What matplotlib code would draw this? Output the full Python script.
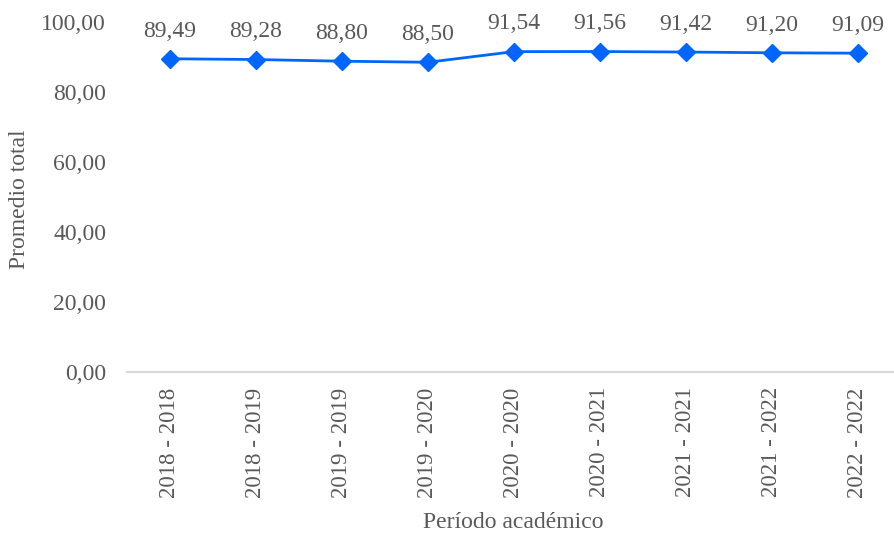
import matplotlib
matplotlib.use("Agg")
import matplotlib.pyplot as plt

categories = ["2018 - 2018", "2018 - 2019", "2019 - 2019", "2019 - 2020", "2020 - 2020",
              "2020 - 2021", "2021 - 2021", "2021 - 2022", "2022 - 2022"]
values = [89.49, 89.28, 88.80, 88.50, 91.54, 91.56, 91.42, 91.20, 91.09]
yticks = [0, 20, 40, 60, 80, 100]

plt.rcParams['font.family'] = ['Liberation Serif', 'DejaVu Serif']
txt = '#595959'

fig = plt.figure(figsize=(8.95, 5.36), dpi=100)
ax = fig.add_axes([127/895, 1-372/536, (895-127)/895, 350/536])
x = list(range(len(categories)))
ax.plot(x, values, color='#0066FF', lw=2, marker='D', ms=9.5, clip_on=False, zorder=3)
for xi, v in zip(x, values):
    ax.annotate(f"{v:.2f}".replace('.', ','), (xi, v), xytext=(0, 16), textcoords='offset points',
                ha='center', va='baseline', fontsize=17, color=txt)

ax.set_xlim(-0.5, 8.5 - 6/86)
ax.set_ylim(0, 100)
ax.set_yticks(yticks)
ax.set_yticklabels([f"{t:.2f}".replace('.', ',') for t in yticks], fontsize=17, color=txt)
ax.set_xticks(x)
ax.set_xticklabels(categories, rotation=90, fontsize=16.5, color=txt)
ax.tick_params(axis='both', length=0)
ax.tick_params(axis='y', pad=15)
ax.tick_params(axis='x', pad=11)
for s in ['top', 'right', 'left']:
    ax.spines[s].set_visible(False)
ax.spines['bottom'].set_color('#d9d9d9')
ax.spines['bottom'].set_linewidth(1.5)

fig.text(20/895, 1-199/536, 'Promedio total', rotation=90, ha='center', va='center', fontsize=17, color=txt)
fig.text(513/895, 1-523/536, 'Período académico', ha='center', va='center', fontsize=17, color=txt)

fig.savefig('out.png', dpi=100)
